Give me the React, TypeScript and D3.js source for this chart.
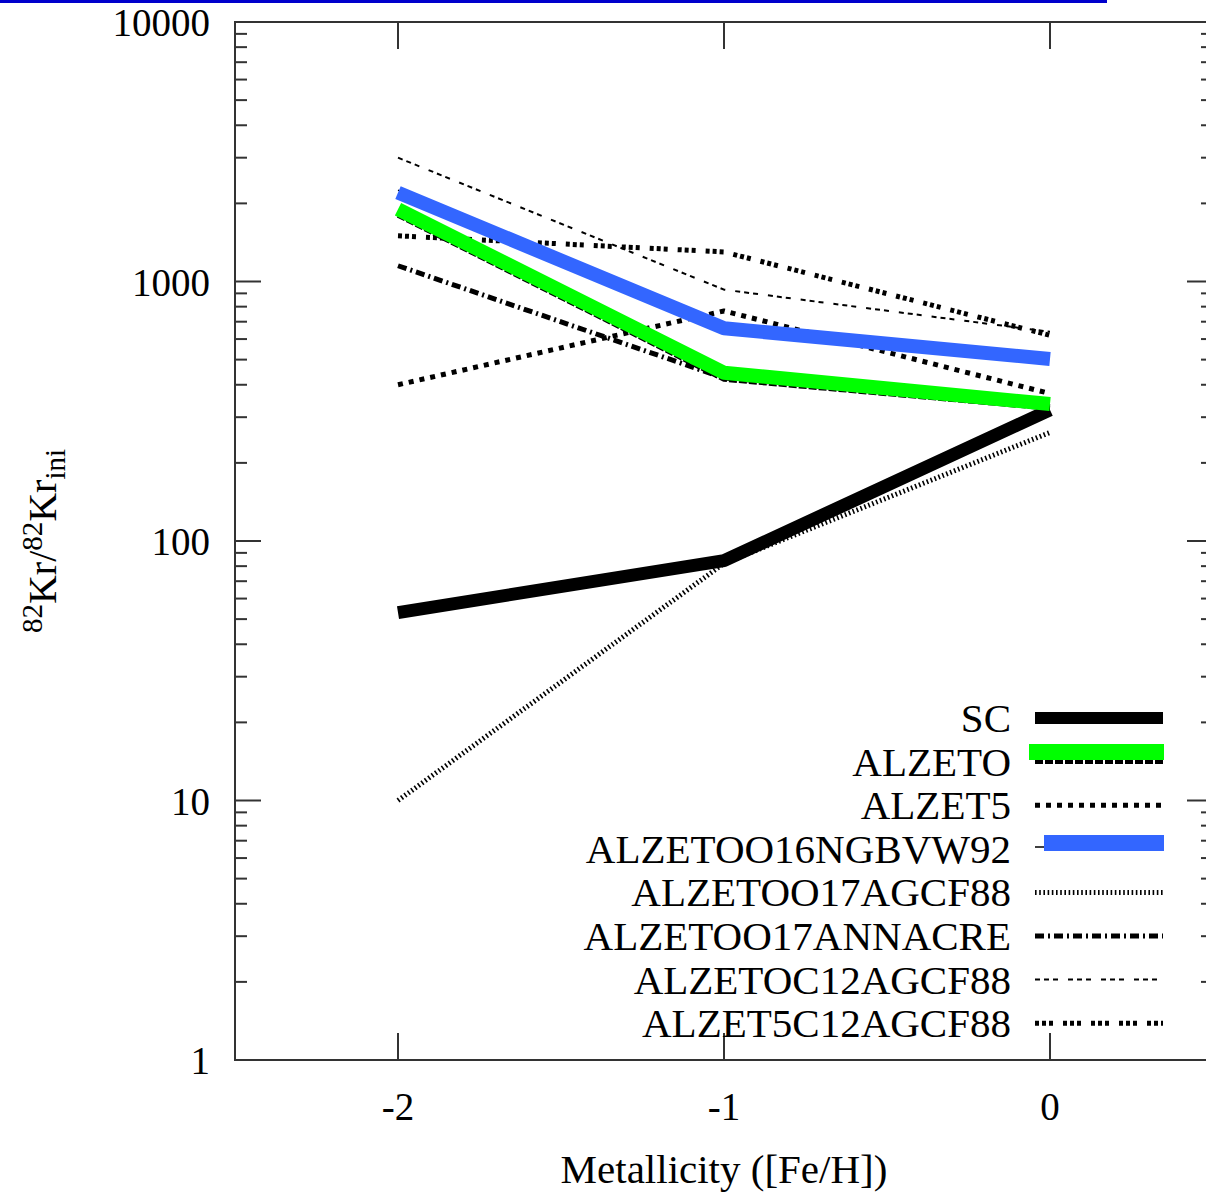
import React, { useEffect, useRef } from "react";
import * as d3 from "d3";

const metallicity = [-2, -1, 0];
const xTickValues = [-2, -1, 0];
const yTickValues = [1, 10, 100, 1000, 10000];

const seriesNames = [
  "SC",
  "ALZETO",
  "ALZET5",
  "ALZETOO16NGBVW92",
  "ALZETOO17AGCF88",
  "ALZETOO17ANNACRE",
  "ALZETOC12AGCF88",
  "ALZET5C12AGCF88",
];

const scValues = [53, 84, 320];
const alzetoValues = [1800, 420, 325];
const alzet5Values = [400, 770, 370];
const alzetoo16Values = [2250, 680, 520];
const alzetoo17agcf88Values = [10, 82, 262];
const alzetoo17annacreValues = [1150, 425, 330];
const alzetoc12Values = [3000, 930, 640];
const alzet5c12Values = [1500, 1300, 620];
// coloured highlight overlays
const greenOverlayValues = [1900, 445, 337];
const blueOverlayValues = [2200, 660, 503];

type Style = { width: number; dash: string | null; color: string };

const styles: Record<string, Style> = {
  SC: { width: 13, dash: null, color: "#000" },
  ALZETO: { width: 5, dash: "8,2", color: "#000" },
  ALZET5: { width: 5, dash: "5,6", color: "#000" },
  ALZETOO16NGBVW92: { width: 1.5, dash: null, color: "#000" },
  ALZETOO17AGCF88: { width: 5, dash: "1.6,2.6", color: "#000" },
  ALZETOO17ANNACRE: { width: 5, dash: "9,4,2,4", color: "#000" },
  ALZETOC12AGCF88: { width: 2, dash: "5,4,5,4,5,10", color: "#000" },
  ALZET5C12AGCF88: { width: 5, dash: "4,3,4,3,4,10", color: "#000" },
};

const seriesValues: Record<string, number[]> = {
  SC: scValues,
  ALZETO: alzetoValues,
  ALZET5: alzet5Values,
  ALZETOO16NGBVW92: alzetoo16Values,
  ALZETOO17AGCF88: alzetoo17agcf88Values,
  ALZETOO17ANNACRE: alzetoo17annacreValues,
  ALZETOC12AGCF88: alzetoc12Values,
  ALZET5C12AGCF88: alzet5c12Values,
};

const W = 1206;
const H = 1194;
const left = 235;
const right = 1213;
const top = 22;
const bottom = 1060;

export default function App() {
  const ref = useRef<SVGSVGElement>(null);

  useEffect(() => {
    const svg = d3.select(ref.current);
    svg.selectAll("*").remove();

    const x = d3.scaleLinear().domain([-2.5, 0.5]).range([left, right]);
    const y = d3.scaleLog().domain([1, 10000]).range([bottom, top]);
    const font = "'Liberation Serif', 'Times New Roman', serif";

    svg.append("rect").attr("x", 0).attr("y", 0).attr("width", W).attr("height", H).attr("fill", "#fff");
    svg.append("rect").attr("x", 0).attr("y", 0).attr("width", 1107).attr("height", 3).attr("fill", "#0000CC");

    const axisColor = "#333";
    const g = svg.append("g");

    // minor ticks
    const minor: number[] = [];
    for (let d = 1; d < 10000; d *= 10) for (let k = 2; k <= 9; k++) minor.push(d * k);
    minor.forEach((v) => {
      g.append("line").attr("x1", left).attr("x2", left + 12).attr("y1", y(v)).attr("y2", y(v)).attr("stroke", axisColor).attr("stroke-width", 2);
      g.append("line").attr("x1", right).attr("x2", right - 12).attr("y1", y(v)).attr("y2", y(v)).attr("stroke", axisColor).attr("stroke-width", 2);
    });
    yTickValues.forEach((v) => {
      g.append("line").attr("x1", left).attr("x2", left + 26).attr("y1", y(v)).attr("y2", y(v)).attr("stroke", axisColor).attr("stroke-width", 2);
      g.append("line").attr("x1", right).attr("x2", right - 26).attr("y1", y(v)).attr("y2", y(v)).attr("stroke", axisColor).attr("stroke-width", 2);
      g.append("text").attr("x", 210).attr("y", y(v) + 14).attr("text-anchor", "end")
        .attr("font-family", font).attr("font-size", 39).attr("fill", "#000").text(String(v));
    });
    xTickValues.forEach((v) => {
      g.append("line").attr("x1", x(v)).attr("x2", x(v)).attr("y1", bottom).attr("y2", bottom - 27).attr("stroke", axisColor).attr("stroke-width", 2);
      g.append("line").attr("x1", x(v)).attr("x2", x(v)).attr("y1", top).attr("y2", top + 27).attr("stroke", axisColor).attr("stroke-width", 2);
      g.append("text").attr("x", x(v)).attr("y", 1120).attr("text-anchor", "middle")
        .attr("font-family", font).attr("font-size", 39).attr("fill", "#000").text(String(v));
    });
    g.append("rect").attr("x", left).attr("y", top).attr("width", right - left).attr("height", bottom - top)
      .attr("fill", "none").attr("stroke", axisColor).attr("stroke-width", 2);

    // axis labels
    svg.append("text").attr("x", 724).attr("y", 1183).attr("text-anchor", "middle")
      .attr("font-family", font).attr("font-size", 41).attr("fill", "#000").text("Metallicity ([Fe/H])");

    const yl = svg.append("text").attr("transform", "translate(56,541) rotate(-90)").attr("text-anchor", "middle")
      .attr("font-family", font).attr("font-size", 40).attr("fill", "#000");
    yl.append("tspan").attr("font-size", 29).attr("dy", -14).text("82");
    yl.append("tspan").attr("dy", 14).text("Kr/");
    yl.append("tspan").attr("font-size", 29).attr("dy", -14).text("82");
    yl.append("tspan").attr("dy", 14).text("Kr");
    yl.append("tspan").attr("font-size", 29).attr("dy", 9).text("ini");

    const line = d3.line<number>().x((_, i) => x(metallicity[i])).y((v) => y(v));

    const drawSeries = (vals: number[], st: Style) => {
      const p = svg.append("path").attr("d", line(vals)).attr("fill", "none").attr("stroke", st.color)
        .attr("stroke-width", st.width).attr("stroke-linejoin", "round").attr("stroke-linecap", "butt");
      if (st.dash) p.attr("stroke-dasharray", st.dash);
    };

    seriesNames.forEach((n) => drawSeries(seriesValues[n], styles[n]));
    drawSeries(greenOverlayValues, { width: 14, dash: null, color: "#00FF00" });
    drawSeries(blueOverlayValues, { width: 14, dash: null, color: "#3366FF" });

    // legend
    const rowY = (i: number) => 718 + i * 43.6;
    seriesNames.forEach((n, i) => {
      const yy = rowY(i);
      svg.append("text").attr("x", 1011).attr("y", yy + 14).attr("text-anchor", "end")
        .attr("font-family", font).attr("font-size", 41).attr("fill", "#000").text(n);
      const st = styles[n];
      const ly = n === "ALZETOO16NGBVW92" ? 847 : yy;
      const p = svg.append("line").attr("x1", 1035).attr("x2", 1163).attr("y1", ly).attr("y2", ly)
        .attr("stroke", st.color).attr("stroke-width", n === "SC" ? 12 : st.width);
      if (st.dash) p.attr("stroke-dasharray", st.dash);
    });
    svg.append("line").attr("x1", 1029).attr("x2", 1164).attr("y1", 752).attr("y2", 752)
      .attr("stroke", "#00FF00").attr("stroke-width", 16);
    svg.append("line").attr("x1", 1044).attr("x2", 1164).attr("y1", 843).attr("y2", 843)
      .attr("stroke", "#3366FF").attr("stroke-width", 16);
  }, []);

  return (
    <svg ref={ref} width={W} height={H} style={{ position: "absolute", left: 0, top: 0 }} />
  );
}
